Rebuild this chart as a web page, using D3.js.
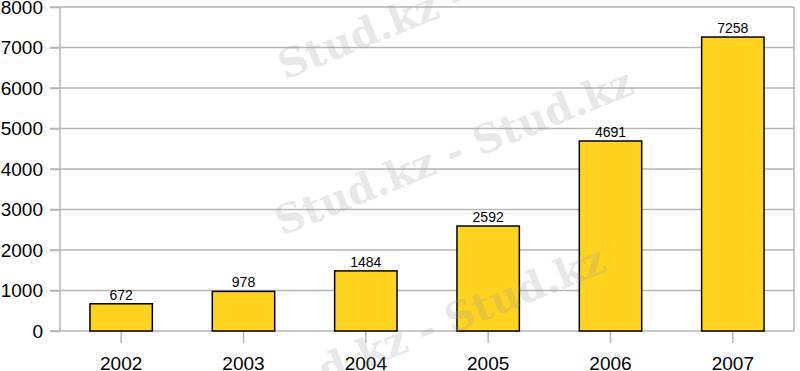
<!DOCTYPE html>
<html>
<head>
<meta charset="utf-8">
<script src="https://cdn.jsdelivr.net/npm/d3@7"></script>
<style>
    body { margin: 0; background: #fff; }
    svg { display: block; font-family: "Liberation Sans", Arial, sans-serif; }
</style>
</head>
<body>
<svg id="chart" width="800" height="371"></svg>
<script>
// chart data
var years = ['2002', '2003', '2004', '2005', '2006', '2007'];
var values = [672, 978, 1484, 2592, 4691, 7258];
var yTicks = [0, 1000, 2000, 3000, 4000, 5000, 6000, 7000, 8000];

var watermarks = ['Stud.kz -', 'Stud.kz - Stud.kz', 'd.kz - Stud.kz'];

var svg = d3.select('#chart');

var plotLeft = 60, plotRight = 794, plotTop = 7, plotBottom = 331;

var x = d3.scaleBand().domain(years).range([plotLeft, plotRight]);
var y = d3.scaleLinear().domain([0, 8000]).range([plotBottom, plotTop]);

var gridColor = '#b6b6b6';

// gridlines
svg.append('g')
    .selectAll('line')
    .data(yTicks)
    .enter()
    .append('line')
    .attr('x1', plotLeft - 10)
    .attr('x2', plotRight)
    .attr('y1', function(d) { return y(d); })
    .attr('y2', function(d) { return y(d); })
    .attr('stroke', gridColor)
    .attr('stroke-width', 1.5);

// y axis
var yAxis = svg.append('g')
    .attr('transform', 'translate(' + plotLeft + ',0)')
    .call(d3.axisLeft(y).tickValues(yTicks).tickSize(10).tickPadding(7).tickFormat(d3.format('d')));
yAxis.select('.domain').remove();
yAxis.selectAll('.tick line').attr('stroke', gridColor).attr('stroke-width', 1.5);
yAxis.selectAll('text')
    .attr('fill', '#000')
    .style('font-size', '19px')
    .style('font-family', '"Liberation Sans", Arial, sans-serif');

// frame lines
svg.append('line')
    .attr('x1', plotLeft).attr('x2', plotLeft)
    .attr('y1', plotTop).attr('y2', plotBottom)
    .attr('stroke', gridColor).attr('stroke-width', 1.5);
svg.append('line')
    .attr('x1', plotRight).attr('x2', plotRight)
    .attr('y1', plotTop).attr('y2', plotBottom)
    .attr('stroke', gridColor).attr('stroke-width', 1.5);

// x axis
var xAxis = svg.append('g')
    .attr('transform', 'translate(0,' + plotBottom + ')')
    .call(d3.axisBottom(x).tickSize(12).tickPadding(14));
xAxis.select('.domain').remove();
xAxis.selectAll('.tick line').attr('stroke', gridColor).attr('stroke-width', 1.5);
xAxis.selectAll('text')
    .attr('fill', '#000')
    .style('font-size', '19px')
    .style('font-family', '"Liberation Sans", Arial, sans-serif');

// bars
var barW = x.bandwidth() * 0.51;
svg.append('g')
    .selectAll('rect')
    .data(values)
    .enter()
    .append('rect')
    .attr('x', function(d, i) { return x(years[i]) + (x.bandwidth() - barW) / 2; })
    .attr('y', function(d) { return y(d); })
    .attr('width', barW)
    .attr('height', function(d) { return plotBottom - y(d); })
    .attr('fill', '#ffd320')
    .attr('stroke', '#000')
    .attr('stroke-width', 1.5);

// value labels
svg.append('g')
    .selectAll('text')
    .data(values)
    .enter()
    .append('text')
    .attr('x', function(d, i) { return x(years[i]) + x.bandwidth() / 2; })
    .attr('y', function(d) { return y(d) - 4; })
    .attr('text-anchor', 'middle')
    .style('font-size', '14px')
    .text(function(d) { return d; });

// faint watermark on top
var wm = svg.append('g').attr('opacity', 0.22);
var wmPos = [[285, 80], [282, 236], [325, 385]];
wm.selectAll('text')
    .data(watermarks)
    .enter()
    .append('text')
    .attr('transform', function(d, i) {
        return 'translate(' + wmPos[i][0] + ',' + wmPos[i][1] + ') rotate(-22)';
    })
    .attr('fill', '#9a9a9a')
    .style('font-family', '"DejaVu Serif", "Liberation Serif", serif')
    .style('font-weight', 'bold')
    .style('font-size', '40px')
    .text(function(d) { return d; });
</script>
</body>
</html>
